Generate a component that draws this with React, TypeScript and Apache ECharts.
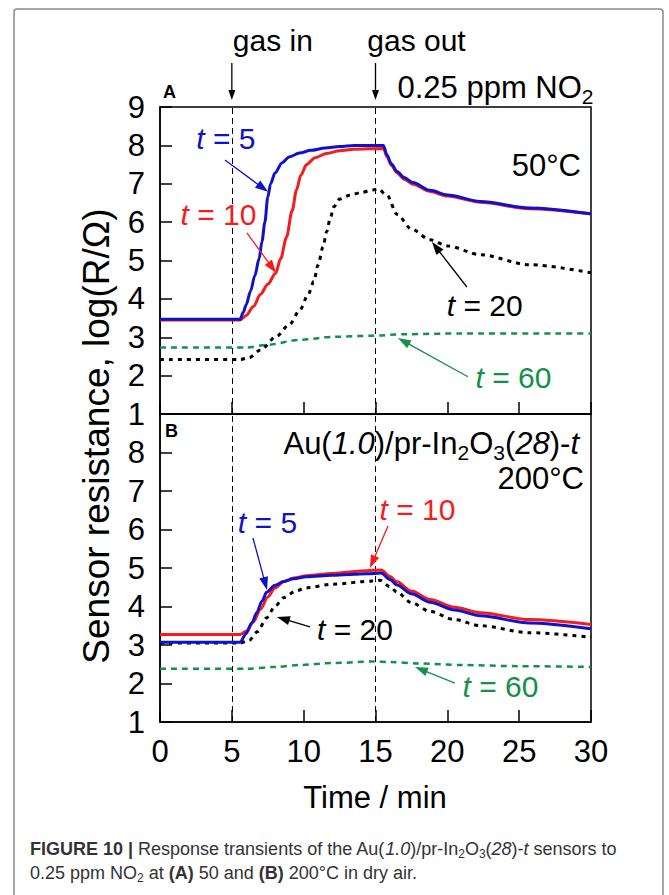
import React, { useEffect, useRef } from "react";
import * as echarts from "echarts";

type Pt = [number, number];

const FONT = '"Liberation Sans", Arial, Helvetica, sans-serif';
const BLUE = "#1111cc";
const RED = "#f41c1c";
const GREEN = "#13904a";
const BLACK = "#000000";

const timeTicks = [0, 5, 10, 15, 20, 25, 30];
const logTicks = [1, 2, 3, 4, 5, 6, 7, 8, 9];
const gasEvents = [5, 15];

// Panel A (50 °C)
const a_t5: Pt[] = [[0,3.47],[5.57,3.47],[5.8,3.65],[6.0,3.85],[6.3,4.2],[6.6,4.6],[6.9,5.05],[7.1,5.5],[7.3,6.0],[7.5,6.65],[7.7,7.0],[8.0,7.28],[8.5,7.55],[9.0,7.7],[9.7,7.8],[10.5,7.87],[11.5,7.93],[12.5,7.97],[13.5,8.0],[15.55,8.0],[15.8,7.75],[16.1,7.52],[16.5,7.32],[17.0,7.16],[17.6,7.03],[18.8,6.83],[20.0,6.71],[22.3,6.54],[25.7,6.37],[30,6.22]];
const a_t10: Pt[] = [[0,3.45],[5.57,3.45],[6.0,3.57],[6.5,3.8],[7.0,4.12],[7.5,4.38],[8.05,4.67],[8.4,5.05],[8.8,5.6],[9.2,6.3],[9.5,6.84],[9.8,7.22],[10.2,7.5],[10.8,7.68],[11.6,7.79],[12.5,7.86],[13.5,7.9],[15.55,7.92],[15.8,7.7],[16.1,7.48],[16.5,7.28],[17.0,7.12],[17.6,6.99],[18.8,6.8],[20.0,6.68],[22.3,6.52],[25.7,6.35],[30,6.21]];
const a_t20: Pt[] = [[0,2.42],[5.6,2.42],[6.2,2.47],[7.0,2.67],[8.1,3.02],[9.0,3.33],[9.74,3.71],[10.3,4.1],[10.7,4.45],[11.0,4.88],[11.35,5.36],[11.6,5.75],[11.85,6.1],[12.1,6.4],[12.5,6.6],[13.2,6.7],[14.0,6.77],[14.8,6.84],[15.2,6.86],[15.8,6.7],[16.5,6.2],[17.5,5.82],[18.8,5.54],[20.0,5.38],[22.3,5.15],[25.7,4.89],[30,4.68]];
const a_t60: Pt[] = [[0,2.73],[6.0,2.73],[7.4,2.8],[9.7,2.93],[12.0,3.01],[14.8,3.04],[17.0,3.08],[21.0,3.1],[30,3.1]];

// Panel B (200 °C)
const b_t5: Pt[] = [[0,3.07],[5.57,3.07],[6.0,3.3],[6.4,3.58],[6.73,3.84],[7.1,4.14],[7.42,4.37],[8.0,4.55],[8.6,4.65],[9.3,4.72],[10.2,4.77],[12.0,4.81],[14.4,4.85],[15.4,4.87],[16.0,4.7],[16.5,4.56],[17.5,4.33],[18.8,4.11],[20.5,3.91],[22.3,3.76],[25.7,3.57],[30,3.42]];
const b_t10: Pt[] = [[0,3.27],[5.57,3.27],[6.0,3.36],[6.5,3.6],[7.0,3.93],[7.5,4.25],[8.0,4.48],[8.6,4.64],[9.3,4.74],[10.2,4.8],[12.0,4.86],[14.4,4.93],[15.4,4.95],[16.0,4.78],[16.5,4.64],[17.5,4.4],[18.8,4.18],[20.5,3.98],[22.3,3.84],[25.7,3.66],[30,3.53]];
const b_t20: Pt[] = [[0,3.05],[5.57,3.05],[6.2,3.12],[6.8,3.35],[7.4,3.7],[8.0,4.0],[8.6,4.23],[9.5,4.41],[10.2,4.49],[12.0,4.58],[14.8,4.66],[15.3,4.68],[16.0,4.52],[16.5,4.37],[17.5,4.1],[18.8,3.87],[20.5,3.66],[22.3,3.5],[25.7,3.32],[30,3.2]];
const b_t60: Pt[] = [[0,2.38],[6.0,2.38],[8.0,2.43],[9.7,2.48],[12.0,2.53],[14.8,2.57],[16.0,2.56],[18.0,2.52],[21.0,2.48],[25.0,2.45],[30,2.43]];

const seriesLabels = ["5", "10", "20", "60"];
const seriesColors = [BLUE, RED, BLACK, GREEN];

// annotations (data coordinates): label text centre, arrow start, arrow tip
const annotA = [
  { k: 0, at: [4.59, 8.19], from: [4.52, 7.62], to: [7.52, 6.79] },
  { k: 1, at: [4.07, 6.19], from: [6.05, 5.72], to: [8.07, 4.68] },
  { k: 2, at: [22.6, 3.84], from: [21.36, 4.31], to: [18.93, 5.48] },
  { k: 3, at: [24.6, 1.94], from: [21.43, 1.97], to: [16.56, 2.98] },
];
const annotB = [
  { k: 0, at: [7.48, 6.19], from: [6.47, 5.78], to: [7.45, 4.43] },
  { k: 1, at: [17.92, 6.51], from: [15.87, 6.09], to: [14.61, 5.0] },
  { k: 2, at: [13.57, 3.39], from: [10.44, 3.47], to: [8.14, 3.73] },
  { k: 3, at: [23.7, 1.91], from: [20.53, 2.01], to: [17.75, 2.43] },
];

function richStyles(F: number, color: string) {
  const L = Math.round(F * 1.2);
  const d = Math.round(F * 0.3);
  const n = { fontSize: F, fontFamily: FONT, fill: color, color, lineHeight: L, verticalAlign: "middle" };
  const s = { fontSize: Math.round(F * 0.68), fontFamily: FONT, fill: color, color, lineHeight: L, height: L + 2 * d, verticalAlign: "top" };
  return {
    n,
    i: { ...n, fontStyle: "italic" },
    b: { ...n, fontWeight: "bold" },
    s,
    si: { ...s, fontStyle: "italic" },
  };
}

function rtext(x: number, cy: number, text: string, F: number, color: string, align: string = "left") {
  const L = Math.round(F * 1.2);
  return {
    type: "text",
    x,
    y: cy - L / 2,
    z: 100,
    silent: true,
    style: {
      text,
      x: 0,
      y: 0,
      align,
      textAlign: align,
      verticalAlign: "top",
      textVerticalAlign: "top",
      fontSize: F,
      fontFamily: FONT,
      fill: color,
      lineHeight: L,
      rich: richStyles(F, color),
    },
  };
}

function arrow(p1: number[], p2: number[], color: string, lw: number, hl: number, hw: number) {
  const dx = p2[0] - p1[0];
  const dy = p2[1] - p1[1];
  const len = Math.hypot(dx, dy) || 1;
  const ux = dx / len, uy = dy / len;
  const px = -uy, py = ux;
  const bx = p2[0] - ux * hl, by = p2[1] - uy * hl;
  return [
    { type: "line", z: 100, silent: true, shape: { x1: p1[0], y1: p1[1], x2: bx + ux * 2, y2: by + uy * 2 }, style: { stroke: color, lineWidth: lw } },
    { type: "polygon", z: 100, silent: true, shape: { points: [[p2[0], p2[1]], [bx + (px * hw) / 2, by + (py * hw) / 2], [bx - (px * hw) / 2, by - (py * hw) / 2]] }, style: { fill: color } },
  ];
}

function lineSeries(name: string, data: Pt[], idx: number, k: number, extra: any = {}) {
  const color = seriesColors[k];
  const styles: any[] = [
    { width: 3, type: "solid" },
    { width: 3, type: "solid" },
    { width: 3, type: [4, 5] },
    { width: 2.5, type: [6, 5] },
  ];
  return {
    type: "line",
    name,
    xAxisIndex: idx,
    yAxisIndex: idx,
    data,
    showSymbol: false,
    symbol: "none",
    smooth: 0.3,
    smoothMonotone: "x",
    silent: true,
    lineStyle: { color, width: styles[k].width, type: styles[k].type, cap: "butt" },
    z: 10 - k,
    ...extra,
  };
}

const gasMarkLine = {
  silent: true,
  symbol: ["none", "none"],
  label: { show: false },
  lineStyle: { color: "#000", width: 1, type: [6, 4] },
  data: gasEvents.map((t) => ({ xAxis: t })),
};

function xAxis(gridIndex: number, showLabels: boolean) {
  return {
    type: "value",
    gridIndex,
    min: timeTicks[0],
    max: timeTicks[timeTicks.length - 1],
    interval: timeTicks[1] - timeTicks[0],
    axisLine: { show: true, lineStyle: { color: "#000", width: 1.5 } },
    axisTick: { show: true, inside: true, length: 12, lineStyle: { color: "#000", width: 1.5 } },
    axisLabel: { show: showLabels, fontSize: 31, fontFamily: FONT, color: "#000", margin: 14 },
    splitLine: { show: false },
  };
}

function yAxis(gridIndex: number, hideTop: boolean) {
  return {
    type: "value",
    gridIndex,
    min: logTicks[0],
    max: logTicks[logTicks.length - 1],
    interval: 1,
    axisLine: { show: true, lineStyle: { color: "#000", width: 1.5 } },
    axisTick: { show: true, inside: true, length: 12, lineStyle: { color: "#000", width: 1.5 } },
    axisLabel: {
      fontSize: 31,
      fontFamily: FONT,
      color: "#000",
      margin: 15,
      formatter: (v: number) => (hideTop && v === logTicks[logTicks.length - 1] ? "" : String(v)),
    },
    splitLine: { show: false },
  };
}

const option: any = {
  animation: false,
  backgroundColor: "#ffffff",
  grid: [
    { left: 160, top: 107, width: 431, height: 307, show: true, borderColor: "#000", borderWidth: 1.5, backgroundColor: "transparent" },
    { left: 160, top: 414, width: 431, height: 308, show: true, borderColor: "#000", borderWidth: 1.5, backgroundColor: "transparent" },
  ],
  xAxis: [xAxis(0, false), xAxis(1, true)],
  yAxis: [yAxis(0, false), yAxis(1, true)],
  series: [
    lineSeries("A t=20", a_t20, 0, 2, { markLine: gasMarkLine }),
    lineSeries("A t=60", a_t60, 0, 3),
    lineSeries("A t=10", a_t10, 0, 1),
    lineSeries("A t=5", a_t5, 0, 0),
    lineSeries("B t=20", b_t20, 1, 2, { markLine: gasMarkLine }),
    lineSeries("B t=60", b_t60, 1, 3),
    lineSeries("B t=5", b_t5, 1, 0),
    lineSeries("B t=10", b_t10, 1, 1),
  ],
};

function buildGraphics(chart: any) {
  const A = (x: number, y: number) => chart.convertToPixel({ gridIndex: 0 }, [x, y]) as number[];
  const B = (x: number, y: number) => chart.convertToPixel({ gridIndex: 1 }, [x, y]) as number[];
  const g: any[] = [];

  // outer frame
  g.push({ type: "rect", z: 99, silent: true, shape: { x: 14, y: 9, width: 649, height: 900, r: 3 }, style: { fill: "none", stroke: "#8a8a8a", lineWidth: 1.5 } });

  const top = A(0, logTicks[logTicks.length - 1])[1];
  // gas in / gas out
  gasEvents.forEach((t, i) => {
    const xp = A(t, 9)[0];
    g.push(...arrow([xp, top - 44], [xp, top - 7], "#000", 1.3, 10, 7));
    g.push(rtext(xp + 41, top - 67, i === 0 ? "{n|gas in}" : "{n|gas out}", 30, "#000", "center"));
  });
  const x15 = A(gasEvents[1], 9)[0];
  g.push(rtext(x15 + 22, top - 20, "{n|0.25 ppm NO}{s|2}", 31, "#000", "left"));

  g.push(rtext(163, 92, "{b|A}", 18, "#000", "left"));
  g.push(rtext(165, 431, "{b|B}", 18, "#000", "left"));
  g.push(rtext(581, 165, "{n|50°C}", 31, "#000", "right"));
  g.push(rtext(579, 443, "{n|Au(}{i|1.0}{n|)/pr-In}{s|2}{n|O}{s|3}{n|(}{i|28}{n|)-}{i|t}", 31, "#000", "right"));
  g.push(rtext(584, 478, "{n|200°C}", 31, "#000", "right"));

  const addAnn = (list: any[], conv: (x: number, y: number) => number[]) => {
    list.forEach((a) => {
      const color = seriesColors[a.k];
      const c = conv(a.at[0], a.at[1]);
      g.push(rtext(c[0], c[1], `{i|t}{n| = ${seriesLabels[a.k]}}`, 30, color, "center"));
      g.push(...arrow(conv(a.from[0], a.from[1]), conv(a.to[0], a.to[1]), color, 1.3, 13, 9));
    });
  };
  addAnn(annotA, A);
  addAnn(annotB, B);

  // axis titles
  g.push(rtext(375, 797, "{n|Time / min}", 31, "#000", "center"));
  g.push({
    type: "text",
    x: 96,
    y: 436,
    rotation: Math.PI / 2,
    z: 100,
    silent: true,
    style: { text: "Sensor resistance, log(R/Ω)", x: 0, y: 0, align: "center", textAlign: "center", verticalAlign: "middle", textVerticalAlign: "middle", fontSize: 37, fontFamily: FONT, fill: "#000" },
  });

  // caption
  const cap = "#333333";
  g.push(rtext(30, 849, "{b|FIGURE 10 | }{n|Response transients of the Au(}{i|1.0}{n|)/pr-In}{s|2}{n|O}{s|3}{n|(}{i|28}{n|)-}{i|t}{n| sensors to}", 18, cap, "left"));
  g.push(rtext(30, 873, "{n|0.25 ppm NO}{s|2}{n| at }{b|(A)}{n| 50 and }{b|(B)}{n| 200°C in dry air.}", 18, cap, "left"));
  return g;
}

export default function App() {
  const ref = useRef<HTMLDivElement>(null);
  useEffect(() => {
    const el = ref.current;
    if (!el) return;
    const chart = echarts.init(el, null, { renderer: "svg" });
    chart.setOption(option);
    chart.setOption({ graphic: buildGraphics(chart) });
    return () => chart.dispose();
  }, []);
  return <div ref={ref} style={{ position: "absolute", left: 0, top: 0, width: 669, height: 895, background: "#fff" }} />;
}
